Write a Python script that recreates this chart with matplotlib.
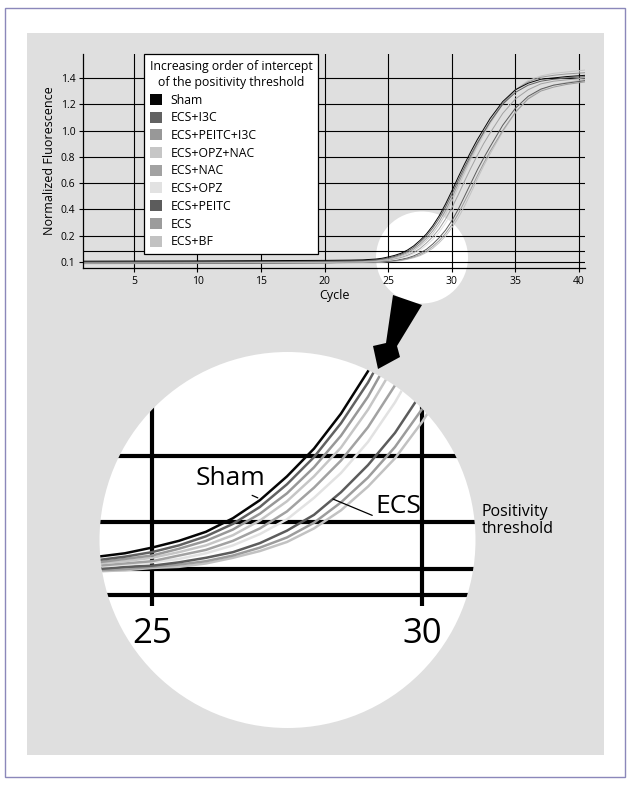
import numpy as np
import matplotlib
matplotlib.use('Agg')
import matplotlib.pyplot as plt
from matplotlib.patches import Circle, Ellipse, Rectangle, Polygon, Patch

plt.rcParams['font.family'] = ['Open Sans', 'DejaVu Sans']

W, H = 631, 785

# qPCR amplification curves
cycles = [1, 10, 20, 22, 23, 24, 24.5, 25, 25.5, 26, 26.5, 27, 27.5, 28, 28.5,
          29, 29.5, 30, 30.5, 31, 31.5, 32, 32.5, 33, 34, 35, 36, 37, 38, 39, 40.5]

sham = [0.103, 0.104, 0.106, 0.107, 0.108, 0.111, 0.114, 0.119, 0.125, 0.133, 0.145,
        0.161, 0.182, 0.213, 0.275, 0.35, 0.44, 0.54, 0.645, 0.745, 0.84, 0.93, 1.01,
        1.09, 1.22, 1.31, 1.36, 1.39, 1.40, 1.41, 1.42]
ecs_i3c = [0.100, 0.101, 0.103, 0.104, 0.105, 0.108, 0.111, 0.115, 0.121, 0.129, 0.140,
           0.155, 0.175, 0.199, 0.258, 0.33, 0.417, 0.515, 0.62, 0.72, 0.815, 0.905, 0.985,
           1.065, 1.20, 1.29, 1.345, 1.375, 1.39, 1.40, 1.41]
ecs_peitc_i3c = [0.099, 0.100, 0.102, 0.103, 0.104, 0.106, 0.109, 0.112, 0.118, 0.125,
                 0.135, 0.149, 0.167, 0.190, 0.236, 0.305, 0.39, 0.487, 0.595, 0.70, 0.80,
                 0.895, 0.985, 1.065, 1.205, 1.31, 1.37, 1.405, 1.42, 1.43, 1.44]
ecs_opz_nac = [0.098, 0.099, 0.100, 0.102, 0.102, 0.105, 0.107, 0.110, 0.115, 0.121,
               0.130, 0.143, 0.160, 0.182, 0.215, 0.282, 0.362, 0.46, 0.567, 0.675, 0.78,
               0.875, 0.965, 1.05, 1.20, 1.31, 1.38, 1.415, 1.435, 1.445, 1.46]
ecs_nac = [0.097, 0.098, 0.099, 0.101, 0.101, 0.103, 0.105, 0.107, 0.112, 0.117, 0.125,
           0.136, 0.151, 0.172, 0.196, 0.251, 0.325, 0.412, 0.51, 0.615, 0.715, 0.81, 0.90,
           0.98, 1.13, 1.24, 1.31, 1.355, 1.375, 1.385, 1.40]
ecs_opz = [0.096, 0.097, 0.099, 0.100, 0.100, 0.102, 0.104, 0.106, 0.109, 0.114, 0.121,
           0.131, 0.144, 0.163, 0.185, 0.225, 0.295, 0.378, 0.477, 0.585, 0.695, 0.795, 0.89,
           0.98, 1.14, 1.265, 1.35, 1.395, 1.42, 1.435, 1.45]
ecs_peitc = [0.094, 0.095, 0.097, 0.099, 0.099, 0.100, 0.102, 0.103, 0.106, 0.110, 0.115,
             0.123, 0.134, 0.148, 0.168, 0.192, 0.241, 0.313, 0.40, 0.50, 0.60, 0.70, 0.79,
             0.875, 1.04, 1.17, 1.26, 1.315, 1.345, 1.36, 1.38]
ecs = [0.094, 0.094, 0.096, 0.098, 0.098, 0.099, 0.100, 0.102, 0.104, 0.107, 0.112,
       0.119, 0.128, 0.141, 0.159, 0.181, 0.216, 0.283, 0.365, 0.46, 0.555, 0.655, 0.75,
       0.84, 1.00, 1.14, 1.24, 1.30, 1.33, 1.35, 1.37]
ecs_bf = [0.093, 0.094, 0.096, 0.097, 0.098, 0.098, 0.099, 0.101, 0.102, 0.105, 0.110,
          0.116, 0.124, 0.136, 0.152, 0.173, 0.198, 0.26, 0.335, 0.425, 0.525, 0.63, 0.73,
          0.82, 0.99, 1.135, 1.245, 1.31, 1.345, 1.365, 1.39]

names = ['Sham', 'ECS+I3C', 'ECS+PEITC+I3C', 'ECS+OPZ+NAC', 'ECS+NAC',
         'ECS+OPZ', 'ECS+PEITC', 'ECS', 'ECS+BF']
series = [sham, ecs_i3c, ecs_peitc_i3c, ecs_opz_nac, ecs_nac,
          ecs_opz, ecs_peitc, ecs, ecs_bf]
colors = ['#050505', '#626262', '#989898', '#c6c6c6', '#a2a2a2',
          '#e2e2e2', '#5c5c5c', '#9c9c9c', '#c2c2c2']

threshold = 0.142
x_ticks = [5, 10, 15, 20, 25, 30, 35, 40]
y_ticks = [0.1, 0.2, 0.4, 0.6, 0.8, 1.0, 1.2, 1.4]
x_range = (1, 40.47)
y_range = (0.077, 1.582)


# the y axis is squeezed below 0.2 (0.1 sits one grid step under 0.2)
def fwd(v):
    v = np.asarray(v, dtype=float)
    return np.where(v >= 0.2, v, 2 * v - 0.2)


def inv(p):
    p = np.asarray(p, dtype=float)
    return np.where(p >= 0.2, p, (p + 0.2) / 2)


def fx(x):
    return x / W


def fy(y):
    return 1 - y / H


fig = plt.figure(figsize=(W / 100, H / 100), dpi=100)

fig.patches.append(Rectangle((fx(5), fy(777)), 620 / W, 769 / H, transform=fig.transFigure,
                             fill=False, edgecolor='#8b88ba', lw=1.0, zorder=-3))
fig.patches.append(Rectangle((fx(27), fy(755)), 577 / W, 722 / H, transform=fig.transFigure,
                             facecolor='#dfdfdf', edgecolor='none', zorder=-2))
fig.patches.append(Ellipse((fx(422), fy(257.5)), 92 / W, 92 / H, transform=fig.transFigure,
                           facecolor='white', edgecolor='none', zorder=-1))

# main chart
ax = fig.add_axes([fx(83), fy(268), 502 / W, 214 / H])
ax.patch.set_visible(False)
ax.set_yscale('function', functions=(fwd, inv))
ax.set_xlim(*x_range)
ax.set_ylim(*y_range)
ax.set_xticks(x_ticks)
ax.set_yticks(y_ticks)
ax.set_yticklabels([f'{t:.1f}' for t in y_ticks])
ax.set_axisbelow(True)
ax.grid(True, color='black', lw=0.8)
ax.axhline(threshold, color='black', lw=0.8, zorder=0.6)
for s in ['top', 'right']:
    ax.spines[s].set_visible(False)
for s in ['left', 'bottom']:
    ax.spines[s].set_linewidth(0.9)
ax.tick_params(direction='out', length=3, width=0.8, labelsize=7.5, pad=2.5)

for vals, col in list(zip(series, colors))[::-1]:
    ax.plot(cycles, vals, color=col, lw=0.7, zorder=2)

ax.set_xlabel('Cycle', fontsize=9, labelpad=2)
ax.set_ylabel('Normalized Fluorescence', fontsize=9, labelpad=3)

handles = [Patch(facecolor=c, edgecolor='none') for c in colors]
leg = ax.legend(handles, names,
                title='Increasing order of intercept\nof the positivity threshold',
                loc='upper left', bbox_to_anchor=(fx(144), fy(54)),
                bbox_transform=fig.transFigure, borderaxespad=0, alignment='left',
                fontsize=8.8, title_fontsize=8.8, handlelength=1.0, handleheight=1.0,
                handletextpad=0.7, labelspacing=0.385, borderpad=0.45,
                fancybox=False, framealpha=1, edgecolor='black')
leg.get_title().set_multialignment('center')
leg.get_title().set_linespacing(1.34)
leg.get_frame().set_linewidth(0.9)
leg.set_zorder(5)

# magnified view
ax_in = fig.add_axes([fx(99.5), fy(728), 376 / W, 376 / H])
ax_in.set_yscale('function', functions=(fwd, inv))
ax_in.set_xlim(24.03, 30.99)
ax_in.set_ylim(-0.0405, 0.384)
ax_in.axis('off')

circ = Circle((0.5, 0.5), 0.5, transform=ax_in.transAxes, facecolor='white',
              edgecolor='none', zorder=0)
ax_in.add_patch(circ)

for yv in y_ticks + [threshold, y_range[0]]:
    ln = ax_in.axhline(yv, color='black', lw=3, zorder=1)
    ln.set_clip_path(circ)
vl = ax_in.vlines(x_ticks, 0.067, 0.384, colors='black', lw=3, zorder=1)
vl.set_clip_path(circ)

for vals, col in list(zip(series, colors))[::-1]:
    ln, = ax_in.plot(cycles, vals, color=col, lw=1.8, zorder=2)
    ln.set_clip_path(circ)

for t in x_ticks:
    if 24.03 < t < 30.99:
        ax_in.text(t, 0.0345, str(t), fontsize=25, ha='center', va='baseline')

ax_in.annotate('Sham', xy=(26.96, 0.163), xytext=(26.46, 0.174),
               fontsize=19, ha='center', va='baseline',
               arrowprops=dict(arrowstyle='-', lw=0.9, color='black',
                               relpos=(0.68, 0.0), shrinkA=2, shrinkB=0))
ax_in.annotate('ECS', xy=(28.35, 0.162), xytext=(29.13, 0.1496),
               fontsize=19, ha='left', va='baseline',
               arrowprops=dict(arrowstyle='-', lw=0.9, color='black',
                               relpos=(0.0, 0.1), shrinkA=0, shrinkB=0))

fig.text(fx(481.7), fy(520.5), 'Positivity\nthreshold', fontsize=11.5,
         ha='left', va='center', linespacing=1.05)

# pointer from the small circle to the magnified view
arrow_px = [(393, 295), (386, 343), (373, 346), (378, 369),
            (400, 357), (397, 346), (422, 305)]
fig.patches.append(Polygon([(fx(a), fy(b)) for a, b in arrow_px], closed=True,
                           transform=fig.transFigure, facecolor='black',
                           edgecolor='none', zorder=10))

fig.savefig('out.png', dpi=100)
